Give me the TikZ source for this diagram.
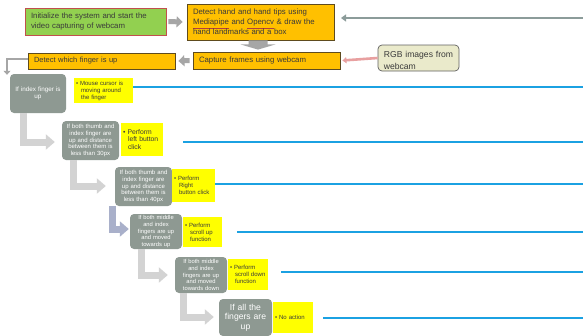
\documentclass[tikz,border=0pt]{standalone}
\usepackage{fontspec}
\setmainfont{Liberation Sans}
\usetikzlibrary{arrows.meta}
\definecolor{orangefill}{HTML}{FFC000}
\definecolor{orangedraw}{HTML}{5E4B1E}
\definecolor{greenfill}{HTML}{92D050}
\definecolor{greendraw}{HTML}{C0504D}
\definecolor{grayfill}{HTML}{8E9992}
\definecolor{ylw}{HTML}{FFFF00}
\definecolor{bluel}{HTML}{1BA1E2}
\definecolor{elbgray}{HTML}{D3D3D3}
\definecolor{elbblue}{HTML}{A9B0CA}
\definecolor{flowgray}{HTML}{A6A6A6}
\definecolor{topgray}{HTML}{8C9C9A}
\definecolor{pinkarr}{HTML}{E8A0A0}
\definecolor{rgbfill}{HTML}{EAEACB}
\definecolor{txtdark}{HTML}{3A3A3A}
\definecolor{ulred}{HTML}{B04040}
\newcommand{\redul}[1]{{\color{ulred}\underline{\color{txtdark}#1}}}
\begin{document}
\begin{tikzpicture}[x=1pt,y=-1pt,
  box/.style={draw, line width=0.8pt, inner xsep=6pt, inner ysep=2pt, align=left, text=txtdark,
    font=\fontsize{7.8}{10}\selectfont},
  obox/.style={box, fill=orangefill, draw=orangedraw},
  gbox/.style={box, fill=greenfill, draw=greendraw},
  dbox/.style={fill=grayfill, rounded corners=4pt, inner sep=1pt, align=center,
    text=white, font=\fontsize{6}{6.7}\selectfont},
  ybox/.style={fill=ylw, inner sep=2pt, align=left, text=txtdark,
    font=\fontsize{6}{7}\selectfont},
  bline/.style={draw=bluel, line width=2.2pt},
  elb/.style={draw=elbgray, line width=7pt, line join=miter,
    -{Triangle[width=15pt,length=9pt]}},
  farrow/.style={draw=flowgray, line width=5pt, -{Triangle[width=11pt,length=6pt]}},
]
\useasboundingbox (0,0) rectangle (583,335);
\fill[white] (0,0) rectangle (583,335);

% top flow
\node[gbox, minimum width=141pt, minimum height=27pt, text width=129pt] (init) at (95.5,21.5)
  {Initialize the system and start the\\video capturing of webcam};
\node[obox, minimum width=147pt, minimum height=36pt, text width=135pt] (hand) at (260.5,22)
  {Detect hand and hand tips using\\\redul{Mediapipe} and \redul{Opencv} \& draw the\\hand landmarks and a box};
\node[obox, minimum width=147pt, minimum height=17pt, text width=135pt] (cap) at (266.5,60.5)
  {Capture frames using webcam};
\node[obox, minimum width=147pt, minimum height=16pt, text width=135pt,
  font=\fontsize{7.5}{9}\selectfont] (det) at (101.5,61)
  {Detect which finger is up};
\node[draw=txtdark!80, line width=0.7pt, fill=rgbfill, rounded corners=4pt, minimum width=81pt,
  minimum height=26pt] (rgb) at (418.5,58) {};
\node[anchor=north west, inner sep=0pt, text width=75pt, align=left, text=txtdark,
  font=\fontsize{8.6}{12}\selectfont] (rgbtxt) at ([xshift=6pt,yshift=-6pt]rgb.north west)
  {RGB images from\\webcam};

\coordinate (topR) at (583,18);
\coordinate (topL) at (341,18);
\draw[draw=topgray, line width=2.6pt, -{Triangle[width=7pt,length=5pt]}] (topR) -- (topL);

\draw[farrow] ([xshift=2pt]init.east) -- ([xshift=-4pt]hand.west);
\fill[flowgray] ([xshift=-12pt]hand.south) -- ([xshift=7pt]hand.south)
  -- ([xshift=7pt,yshift=-4pt]hand.south) -- ([xshift=15pt,yshift=-4pt]hand.south)
  -- ([xshift=-8.5pt,yshift=2pt]cap.north)
  -- ([xshift=-20pt,yshift=-4pt]hand.south) -- ([xshift=-12pt,yshift=-4pt]hand.south) -- cycle;
\draw[farrow] ([xshift=-3pt]cap.west) -- ([xshift=3pt]det.east);
\draw[draw=pinkarr, line width=2.6pt, -{Triangle[width=6pt,length=4pt]}]
  (rgb.west) -- ([xshift=2pt]cap.east);

% decision boxes
\node[dbox, minimum width=56pt, minimum height=39pt, text width=54pt,
  font=\fontsize{6.3}{7.5}\selectfont] (g1) at (38,93.5)
  {If index finger is\\up};
\node[ybox, minimum width=59pt, minimum height=25pt, text width=55pt] (y1) at (103.5,90.5)
  {\textbullet\ Mouse cursor is\\\hspace{5pt}moving around\\\hspace{5pt}the finger};
\node[dbox, minimum width=57pt, minimum height=39pt, text width=55pt] (g2) at (90.5,140.5)
  {If both thumb and\\index finger are\\up and distance\\between them is\\less than 30px};
\node[ybox, minimum width=42pt, minimum height=33pt, text width=38pt,
  font=\fontsize{6.8}{7.5}\selectfont] (y2) at (142,139.5)
  {\textbullet\ Perform\\\hspace{5pt}left button\\\hspace{5pt}click};
\node[dbox, minimum width=57pt, minimum height=39pt, text width=55pt] (g3) at (143.5,186.5)
  {If both thumb and\\index finger are\\up and distance\\between them is\\less than 40px};
\node[ybox, minimum width=43pt, minimum height=33pt, text width=39pt] (y3) at (193.5,185.5)
  {\textbullet\ Perform\\\hspace{5pt}Right\\\hspace{5pt}button click};
\node[dbox, minimum width=52pt, minimum height=35pt, text width=50pt,
  font=\fontsize{5.8}{6.6}\selectfont] (g4) at (156,231.5)
  {If both middle\\and index\\fingers are up\\and moved\\towards up};
\node[ybox, minimum width=39pt, minimum height=30pt, text width=35pt] (y4) at (202.5,232)
  {\textbullet\ Perform\\\hspace{5pt}scroll up\\\hspace{5pt}function};
\node[dbox, minimum width=52pt, minimum height=36pt, text width=50pt,
  font=\fontsize{5.8}{6.6}\selectfont] (g5) at (201,275)
  {If both middle\\and index\\fingers are up\\and moved\\towards down};
\node[ybox, minimum width=40pt, minimum height=31pt, text width=36pt] (y5) at (248,274.5)
  {\textbullet\ Perform\\\hspace{5pt}scroll down\\\hspace{5pt}function};
\node[dbox, minimum width=53pt, minimum height=37pt, text width=51pt,
  font=\fontsize{8.6}{9.5}\selectfont] (g6) at (245.5,317.5)
  {If all the\\fingers are\\up};
\node[ybox, minimum width=40pt, minimum height=31pt, text width=36pt] (y6) at (293,317.5)
  {\textbullet\ No action};

% detect -> first decision
\coordinate (dk) at (7,59);
\draw[draw=flowgray, line width=2.6pt, -{Triangle[width=7pt,length=4pt]}]
  (det.west |- dk) -- (dk) -- ([yshift=-1pt]dk |- g1.north);

% elbow arrows
\coordinate (e1) at (23,142);
\coordinate (e2) at (73,186);
\coordinate (e3) at (112,229);
\coordinate (e4) at (141,275);
\coordinate (e5) at (183,317);
\draw[elb] (e1 |- g1.south) -- (e1) -- ([xshift=-7pt]g2.west |- e1);
\draw[elb] (e2 |- g2.south) -- (e2) -- ([xshift=-9pt]g3.west |- e2);
\draw[elb, draw=elbblue] (e3 |- g3.south) -- (e3) -- ([xshift=-1pt]g4.west |- e3);
\draw[elb] (e4 |- g4.south) -- (e4) -- ([xshift=-7pt]g5.west |- e4);
\draw[elb] (e5 |- g5.south) -- (e5) -- ([xshift=-5pt]g6.west |- e5);

% blue lines
\coordinate (r1) at (583,87);
\coordinate (r2) at (583,142);
\coordinate (r3) at (583,184);
\coordinate (r4) at (583,232);
\coordinate (r5) at (583,272);
\coordinate (r6) at (583,318);
\draw[bline] (y1.east |- r1) -- (r1);
\draw[bline] ([xshift=20pt]y2.east |- r2) -- (r2);
\draw[bline] (y3.east |- r3) -- (r3);
\draw[bline] ([xshift=15pt]y4.east |- r4) -- (r4);
\draw[bline] ([xshift=13pt]y5.east |- r5) -- (r5);
\draw[bline] ([xshift=10pt]y6.east |- r6) -- (r6);
\end{tikzpicture}
\end{document}
